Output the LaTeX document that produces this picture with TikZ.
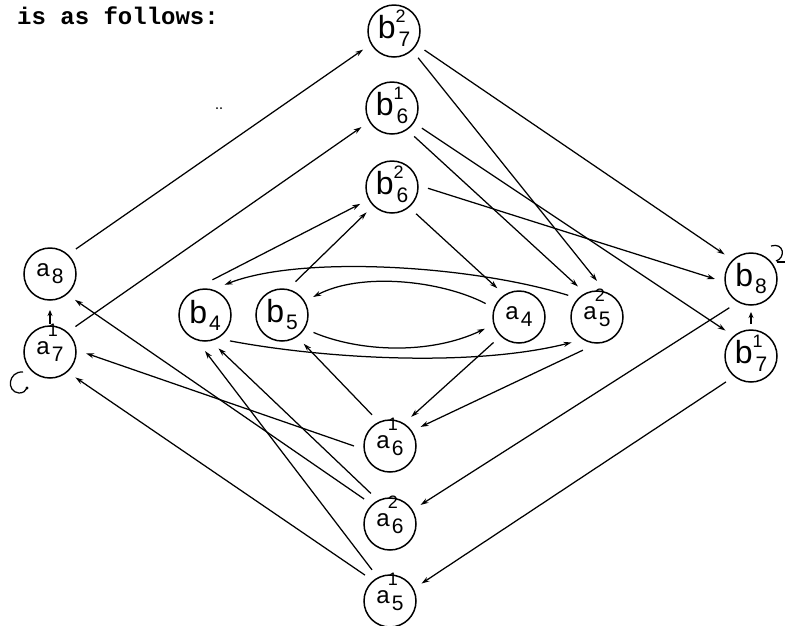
\documentclass[tikz,border=0pt]{standalone}
\usepackage{fontspec}
\setmainfont{Liberation Sans}
\newfontfamily\monofont{Liberation Mono}
\usetikzlibrary{arrows.meta}
\newcommand{\Lb}{\fontsize{32}{32}\selectfont}
\newcommand{\La}{\fontsize{24}{24}\selectfont}
\newcommand{\Ld}{\fontsize{21}{21}\selectfont}
\newcommand{\Ls}{\fontsize{18}{18}\selectfont}
\newcommand{\blab}[2]{{\Lb b}\rlap{\smash{\raisebox{16pt}{\Ls #1}}}\kern3pt\raisebox{-8pt}{\Ld #2}}
\newcommand{\alab}[2]{{\La a}\rlap{\smash{\raisebox{18pt}{\kern-2pt\Ls #1}}}\kern2pt\raisebox{-7pt}{\Ld #2}}
\begin{document}
\begin{tikzpicture}[x=1pt,y=-1pt,
  st/.style={circle,draw,line width=1.5pt,minimum size=52pt,inner sep=0pt,outer sep=10pt},
  arr/.style={line width=1.25pt,-{Stealth[length=8pt,width=5pt]}},
  sarr/.style={line width=1.25pt,-{Stealth[length=6pt,width=5pt]}},
  loopmark/.style={line width=1.25pt}]
\useasboundingbox (0,0) rectangle (785,625);

\node[anchor=base west,font=\monofont\bfseries\fontsize{24}{24}\selectfont,inner sep=0pt] (title) at (17,24) {is as follows:};

\node[st] (b72) at (394,31) {\blab{2}{7}};
\node[st] (b61) at (392,108) {\blab{1}{6}};
\node[st] (b62) at (392,187) {\blab{2}{6}};
\node[st] (a8) at (50,274) {{\La a}\kern2pt\raisebox{-7pt}{\Ld 8}};
\node[st] (a71) at (50,352) {\alab{1}{7}};
\node[st] (b4) at (205,315) {{\Lb b}\kern2pt\raisebox{-7pt}{\Ld 4}};
\node[st] (b5) at (282,315) {{\Lb b}\kern2pt\raisebox{-7pt}{\Ld 5}};
\node[st] (a4) at (519,317) {{\La a}\kern2pt\raisebox{-7pt}{\Ld 4}};
\node[st] (a52) at (597,317) {\alab{2}{5}};
\node[st] (b8) at (751,279) {{\Lb b}\kern2pt\raisebox{-7pt}{\Ld 8}};
\node[st] (b71) at (751,356) {\blab{1}{7}};
\node[st] (a61) at (390,446) {\alab{1}{6}};
\node[st] (a62) at (390,524) {\alab{2}{6}};
\node[st] (a51) at (390,601) {\alab{1}{5}};

% straight connectors
\draw[arr] (a8.44) -- (b72.211);
\draw[arr] (a71.45) -- (b61.212);
\draw[arr] (b4.78) -- (b62.208);
\draw[arr] (b5.68) -- (b62.225);
\draw[arr] (b72.-32) -- (b8.137);
\draw[arr] (b72.-48) -- (a52.90);
\draw[arr] (b61.-34) -- (b71.135);
\draw[arr] (b61.-52) -- (a52.122);
\draw[arr] (b62.-2) -- (b8.180);
\draw[arr] (b62.-48) -- (a4.127);
\draw[arr] (a4.225) -- (a61.54);
\draw[arr] (a52.247) -- (a61.32);
\draw[arr] (a61.120) -- (b5.-53);
\draw[arr] (a61.180) -- (a71.-2);
\draw[arr] (a62.122) -- (b4.-68);
\draw[arr] (a62.136) -- (a8.-46);
\draw[arr] (a51.120) -- (b4.-90);
\draw[arr] (a51.134) -- (a71.-45);
\draw[arr] (b8.233) -- (a62.32);
\draw[arr] (b71.226) -- (a51.29);

% curved connectors
\draw[arr] (a52.143) .. controls (470,265) and (300,255) .. (b4.57);
\draw[arr] (a4.158) .. controls (440,280) and (360,272) .. (b5.30);
\draw[arr] (b4.-46) .. controls (320,358) and (470,368) .. (a52.225);
\draw[arr] (b5.-29) .. controls (360,352) and (430,355) .. (a4.199);

% short vertical arrows
\draw[sarr] ([yshift=-8pt]a71.north) -- (a8.south);
\draw[sarr] ([yshift=-4pt]b71.north) -- ([yshift=3pt]b8.south);

% small loop marks
\draw[loopmark] (23,372) .. controls (8,371) and (6,392) .. (19,393) .. controls (23,393) and (26,391) .. (27,388);
\fill (27,388) circle[radius=1.6pt];
\draw[loopmark] (771,246) .. controls (784,242) and (786,258) .. (776,261);
\draw[loopmark] (777,262) -- (785,262);

% stray marks
\fill (217,108) circle[radius=1pt];
\fill (221,108) circle[radius=1pt];
\end{tikzpicture}
\end{document}
